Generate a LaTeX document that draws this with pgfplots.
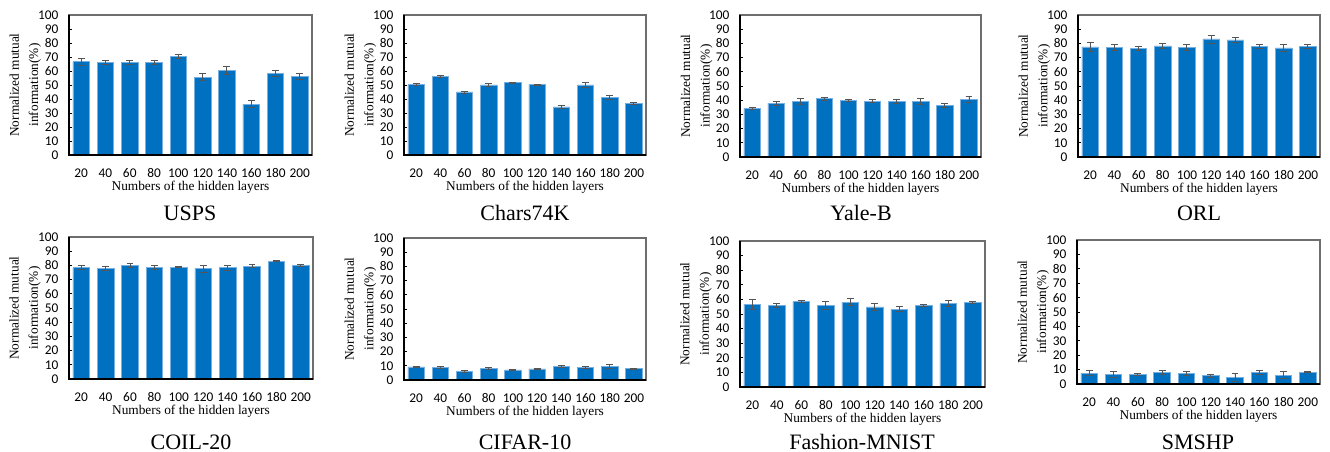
\documentclass[border=0pt]{standalone}
\usepackage{pgfplots}
\pgfplotsset{compat=1.18}
\usepackage{pgfplotstable}
\usepackage{fontspec}
\setmainfont{Liberation Serif}
\newfontfamily\tickfont{Carlito}
\definecolor{barblue}{RGB}{0,112,192}
\definecolor{baredge}{RGB}{120,175,225}
\definecolor{errgray}{RGB}{85,85,85}
\definecolor{framegray}{RGB}{110,110,110}

\pgfplotstableread{
x y e
0 66.7 2.4
1 66.2 1.5
2 66.2 1.5
3 66.0 1.3
4 70.2 1.6
5 55.7 2.2
6 60.2 2.9
7 36.2 2.6
8 58.3 2.4
9 56.2 2.0
}\usps
\pgfplotstableread{
x y e
0 50.2 0.7
1 56.2 0.5
2 45.0 0.7
3 50.0 1.2
4 51.7 0.3
5 50.2 0.5
6 34.3 1.2
7 50.0 1.5
8 41.2 1.5
9 36.9 0.6
}\chars
\pgfplotstableread{
x y e
0 34.2 0.4
1 37.9 1.5
2 39.3 2.0
3 41.0 1.2
4 39.8 0.4
5 39.3 1.1
6 38.9 1.3
7 39.3 2.2
8 36.5 1.5
9 40.3 2.0
}\yale
\pgfplotstableread{
x y e
0 77.5 3.3
1 77.3 2.0
2 76.6 1.5
3 78.2 2.0
4 77.3 2.3
5 83.1 2.8
6 82.4 1.7
7 78.0 1.5
8 76.8 2.5
9 78.0 1.5
}\orl
\pgfplotstableread{
x y e
0 78.5 1.4
1 78.0 1.6
2 80.1 1.5
3 78.7 1.6
4 78.7 0.5
5 77.8 2.5
6 78.5 1.8
7 79.4 1.0
8 83.1 0.4
9 80.1 0.8
}\coil
\pgfplotstableread{
x y e
0 9.2 0.5
1 8.9 0.5
2 5.9 0.5
3 8.2 0.5
4 7.1 0.6
5 7.8 0.5
6 9.4 0.5
7 8.7 0.5
8 9.6 1.3
9 8.0 0.4
}\cifar
\pgfplotstableread{
x y e
0 56.6 3.4
1 55.9 1.6
2 58.7 0.7
3 55.7 2.7
4 58.2 2.2
5 54.8 2.5
6 53.2 1.8
7 55.9 0.5
8 57.1 2.2
9 57.8 0.8
}\fashion
\pgfplotstableread{
x y e
0 7.6 1.5
1 6.5 2.2
2 6.7 0.6
3 7.9 1.4
4 7.2 1.4
5 5.8 1.1
6 4.6 2.5
7 7.9 1.6
8 6.2 2.2
9 8.3 0.4
}\smshp

\pgfplotsset{
  sub/.style={
    scale only axis, anchor=south west,
    xmin=-0.5, xmax=9.5, ymin=0, ymax=100,
    xtick={0,...,9}, xticklabels={20,40,60,80,100,120,140,160,180,200},
    ytick={0,10,...,100},
    ytick pos=left, xtick pos=bottom,
    tick align=inside, major tick length=2.5pt,
    xtick style={draw=none},
    ytick style={black, line width=0.6pt},
    axis line style={draw=framegray, line width=1.1pt},
    /pgf/number format/assume math mode=true,
    tick label style={font=\tickfont\fontsize{10}{11}\selectfont, text=black},
    xticklabel style={anchor=center, yshift=-11pt, inner sep=1pt},
    yticklabel style={xshift=-4.5pt},
    xlabel={Numbers of the hidden layers},
    xlabel style={at={(axis description cs:0.5,0)}, anchor=center, yshift=-24.5pt, inner sep=1pt, font=\fontsize{10}{12}\selectfont},
    ylabel={Normalized mutual\\information(\%)},
    ylabel style={at={(axis description cs:-0.18,0.5)}, anchor=center, align=center, font=\fontsize{10}{14.5}\selectfont},
    ybar, bar width=0.68,
    after end axis/.code={\draw[black, line width=1.2pt] (rel axis cs:0,1) -- (rel axis cs:0,0) -- (rel axis cs:1,0);},
  },
  barplot/.style={
    fill=barblue, draw=baredge, line width=0.5pt,
    error bars/.cd, y dir=both, y explicit,
    error bar style={errgray, line width=0.7pt},
    error mark options={errgray, line width=0.7pt, mark size=2.6pt, rotate=90},
  },
}

\newcommand{\subplot}[5]{%
\begin{axis}[sub, at={(#1*0.75pt,-#2*0.75pt)}, width=#3*0.75pt, height=#4*0.75pt]
\addplot[barplot] table[x=x, y=y, y error=e]{#5};
\end{axis}}

\begin{document}
\begin{tikzpicture}
\useasboundingbox (0,0) rectangle (1330*0.75pt,-452*0.75pt);
\subplot{69}{155}{243}{140}{\usps}
\subplot{404}{155}{242}{140}{\chars}
\subplot{740}{157}{241}{142}{\yale}
\subplot{1078}{157}{242}{142}{\orl}
\subplot{69}{379}{244}{142}{\coil}
\subplot{404}{380}{242}{142}{\cifar}
\subplot{740}{387}{245}{146}{\fashion}
\subplot{1077}{384}{243}{144}{\smshp}
\begin{scope}[every node/.style={font=\fontsize{16.5}{18}\selectfont}]
\node at (190*0.75pt,-213*0.75pt) {USPS};
\node at (525*0.75pt,-213*0.75pt) {Chars74K};
\node at (861*0.75pt,-213*0.75pt) {Yale-B};
\node at (1199*0.75pt,-213*0.75pt) {ORL};
\node at (191*0.75pt,-442*0.75pt) {COIL-20};
\node at (525*0.75pt,-442*0.75pt) {CIFAR-10};
\node at (862*0.75pt,-442*0.75pt) {Fashion-MNIST};
\node at (1198*0.75pt,-442*0.75pt) {SMSHP};
\end{scope}
\end{tikzpicture}
\end{document}
